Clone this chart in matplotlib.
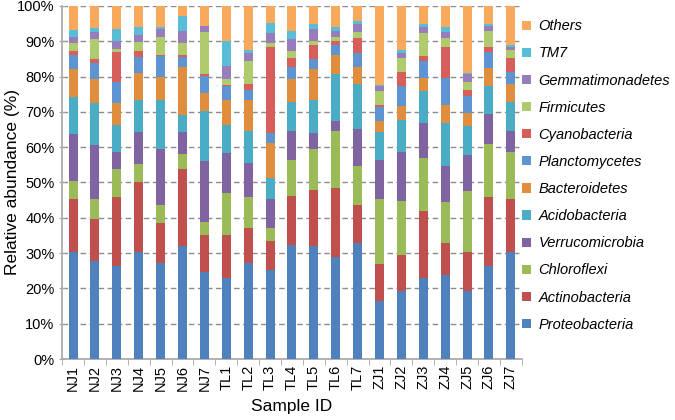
import matplotlib
matplotlib.use("Agg")
import matplotlib.pyplot as plt
import numpy as np
from matplotlib.patches import Patch

plt.rcParams['font.family'] = ['Liberation Sans', 'DejaVu Sans']

samples = ["NJ1", "NJ2", "NJ3", "NJ4", "NJ5", "NJ6", "NJ7",
           "TL1", "TL2", "TL3", "TL4", "TL5", "TL6", "TL7",
           "ZJ1", "ZJ2", "ZJ3", "ZJ4", "ZJ5", "ZJ6", "ZJ7"]

phyla = ["Proteobacteria", "Actinobacteria", "Chloroflexi", "Verrucomicrobia",
         "Acidobacteria", "Bacteroidetes", "Planctomycetes", "Cyanobacteria",
         "Firmicutes", "Gemmatimonadetes", "TM7", "Others"]

proteobacteria = [30.3, 27.8, 26.4, 30.3, 27.3, 32.1, 24.8, 23.0, 27.3, 25.1, 32.4, 32.0, 29.0, 32.9, 16.5, 19.2, 23.1, 23.9, 19.2, 26.4, 30.3]
actinobacteria = [15.0, 11.9, 19.4, 19.7, 11.2, 21.8, 10.2, 12.0, 9.9, 8.2, 13.9, 15.9, 19.3, 10.7, 10.4, 10.3, 18.8, 9.1, 11.1, 19.4, 15.0]
chloroflexi = [5.2, 5.7, 8.1, 5.3, 5.2, 4.3, 3.9, 12.0, 8.7, 3.9, 10.2, 11.6, 16.3, 11.2, 18.5, 15.4, 15.1, 11.6, 17.2, 15.1, 13.4]
verrucomicrobia = [13.3, 15.1, 4.8, 9.0, 15.8, 6.1, 17.2, 11.3, 9.7, 8.1, 8.1, 4.4, 2.7, 10.3, 11.0, 13.8, 9.8, 10.2, 10.4, 8.5, 5.9]
acidobacteria = [10.4, 12.0, 7.7, 9.0, 13.8, 4.7, 14.1, 8.1, 9.0, 6.0, 8.2, 9.4, 13.3, 12.9, 7.9, 9.1, 9.1, 12.0, 8.1, 7.8, 8.2]
bacteroidetes = [7.8, 6.8, 6.1, 7.7, 6.5, 13.7, 5.2, 7.0, 8.7, 9.9, 6.5, 8.7, 5.5, 4.7, 3.0, 3.8, 3.8, 5.2, 3.8, 5.1, 5.2]
planctomycetes = [4.1, 4.5, 6.0, 4.4, 6.0, 2.7, 4.8, 3.8, 3.0, 2.7, 3.4, 2.9, 2.7, 3.9, 4.2, 5.6, 4.7, 7.7, 4.8, 4.7, 3.4]
cyanobacteria = [1.0, 1.1, 8.5, 1.7, 0.4, 0.7, 0.6, 0.5, 1.7, 24.4, 2.6, 3.9, 1.2, 4.3, 0.5, 4.2, 1.3, 8.6, 1.6, 1.3, 3.9]
firmicutes = [2.5, 5.7, 0.9, 2.6, 5.1, 3.5, 11.8, 1.6, 6.4, 1.3, 1.8, 1.2, 1.3, 1.7, 3.9, 3.9, 6.5, 2.6, 2.3, 4.6, 2.2]
gemmatimonadetes = [1.7, 2.0, 2.1, 2.1, 2.2, 3.3, 1.7, 3.8, 2.2, 2.6, 3.4, 3.5, 1.6, 2.4, 1.3, 1.3, 1.8, 1.7, 2.1, 1.4, 0.8]
tm7 = [1.9, 1.0, 3.5, 2.1, 0.5, 4.1, 0.0, 7.0, 0.9, 2.9, 2.5, 1.3, 1.1, 0.7, 0.4, 1.0, 0.8, 1.4, 0.4, 0.5, 0.5]
others = [6.8, 6.4, 6.5, 6.1, 6.0, 3.0, 5.7, 9.9, 12.5, 4.9, 7.0, 5.2, 6.0, 4.3, 22.4, 12.4, 5.2, 6.0, 19.0, 5.2, 11.2]

series = [proteobacteria, actinobacteria, chloroflexi, verrucomicrobia,
          acidobacteria, bacteroidetes, planctomycetes, cyanobacteria,
          firmicutes, gemmatimonadetes, tm7, others]

colors = ["#4F81BD", "#C0504D", "#9BBB59", "#8064A2", "#4BACC6", "#E08E3E",
          "#5E94D2", "#D65F5B", "#AFCB6E", "#977DBB", "#58BED8", "#F9A95C"]

fig = plt.figure(figsize=(6.75, 4.2), dpi=100)
ax = fig.add_axes([0.092, 0.145, 0.681, 0.841])

x = np.arange(len(samples))
bottom = np.zeros(len(samples))
for vals, c in zip(series, colors):
    v = np.array(vals)
    ax.bar(x, v, bottom=bottom, width=0.41, color=c, edgecolor='none', zorder=3)
    bottom += v

ax.set_ylim(0, 100)
ax.set_xlim(-0.5, len(samples) - 0.5)
ax.set_yticks(np.arange(0, 101, 10))
ax.set_yticklabels([f"{v}%" for v in range(0, 101, 10)], fontsize=10.5)
ax.yaxis.grid(True, linestyle=(0, (4, 2.5)), color='#8C8C8C', linewidth=1.0, zorder=0)
ax.set_axisbelow(True)

ax.set_xticks(x)
ax.set_xticklabels(samples, rotation=90, fontsize=10.5)
ax.tick_params(axis='x', which='major', length=0, pad=4)
ax.set_xticks(np.arange(-0.5, len(samples), 1), minor=True)
ax.tick_params(axis='x', which='minor', length=4, direction='out', color='#A6A6A6')
ax.tick_params(axis='y', length=5, direction='inout', color='#A6A6A6', pad=3)

for s in ['top', 'right']:
    ax.spines[s].set_visible(False)
for s in ['left', 'bottom']:
    ax.spines[s].set_color('#A6A6A6')
    ax.spines[s].set_linewidth(1.2)

ax.set_ylabel("Relative abundance (%)", fontsize=12.5)
ax.yaxis.set_label_coords(-0.092, 0.5)
ax.set_xlabel("Sample ID", fontsize=12.5, labelpad=6)

handles = [Patch(facecolor=c, edgecolor='none') for c in colors][::-1]
labels = phyla[::-1]
fig.legend(handles, labels, loc='upper left', bbox_to_anchor=(0.765, 0.968),
           frameon=False, prop={'style': 'italic', 'size': 10.5},
           handlelength=0.6, handleheight=0.6, handletextpad=0.5,
           labelspacing=0.9, borderaxespad=0)

fig.savefig("out.png", dpi=100)
